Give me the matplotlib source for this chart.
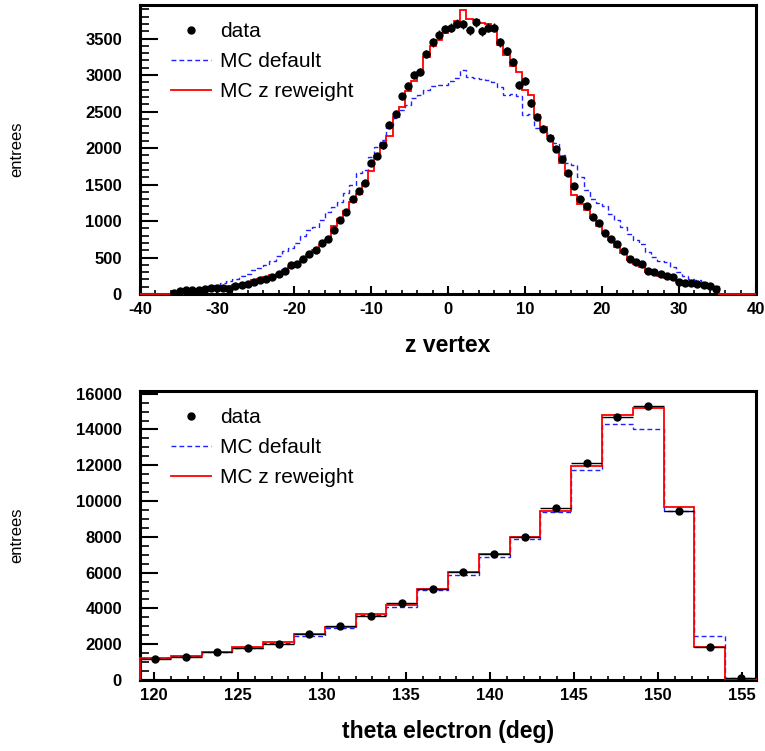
import numpy as np
import matplotlib
matplotlib.use("Agg")
import matplotlib.pyplot as plt
from matplotlib.lines import Line2D
from matplotlib.ticker import MultipleLocator

plt.rcParams['font.family'] = ['Liberation Sans', 'DejaVu Sans']
plt.rcParams['axes.unicode_minus'] = False

# ---------------- top panel: z vertex (100 bins, -40..40) ----------------
z_lo, z_hi, z_nbins = -40.0, 40.0, 100
z_data = [0, 0, 0, 0, 0, 8, 39, 57, 57, 57,
          71, 76, 85, 85, 66, 112, 126, 140, 163, 186,
          209, 231, 268, 314, 392, 415, 484, 543, 598, 699,
          754, 883, 1011, 1125, 1295, 1414, 1524, 1790, 1891, 2038,
          2317, 2469, 2707, 2854, 3005, 3046, 3289, 3450, 3555, 3630,
          3647, 3702, 3693, 3615, 3725, 3601, 3647, 3647, 3450, 3326,
          3175, 2868, 2914, 2616, 2432, 2262, 2143, 1987, 1845, 1662,
          1478, 1300, 1203, 1057, 974, 841, 759, 690, 589, 474,
          438, 415, 314, 300, 277, 245, 231, 163, 144, 149,
          140, 117, 108, 62, 0, 0, 0, 0, 0, 0]
z_mc_default = [0, 0, 0, 0, 0, 0, 48, 57, 62, 71,
                85, 103, 126, 149, 177, 209, 241, 277, 323, 360,
                392, 447, 516, 590, 628, 700, 791, 873, 919, 1011,
                1125, 1194, 1263, 1378, 1492, 1653, 1699, 1882, 2020, 2111,
                2317, 2409, 2524, 2593, 2684, 2730, 2799, 2845, 2868, 2868,
                2914, 2959, 3065, 2973, 2959, 2945, 2936, 2900, 2836, 2730,
                2744, 2708, 2455, 2469, 2271, 2249, 2157, 2065, 1905, 1790,
                1767, 1607, 1423, 1300, 1250, 1203, 1102, 1011, 919, 827,
                736, 690, 575, 507, 452, 438, 369, 300, 241, 209,
                186, 163, 140, 103, 0, 0, 0, 0, 0, 0]
z_mc_rew = [0, 0, 0, 0, 0, 0, 0, 44, 44, 44,
            71, 71, 94, 94, 103, 117, 140, 154, 186, 209,
            231, 254, 277, 332, 375, 405, 460, 529, 598, 667,
            745, 928, 1034, 1139, 1263, 1377, 1524, 1689, 1891, 2056,
            2166, 2432, 2561, 2776, 2913, 3037, 3248, 3395, 3486, 3578,
            3633, 3738, 3890, 3771, 3752, 3707, 3693, 3601, 3418, 3280,
            3119, 3037, 2799, 2730, 2455, 2294, 2166, 2020, 1799, 1630,
            1355, 1240, 1155, 1040, 928, 837, 736, 644, 562, 461,
            415, 369, 300, 277, 241, 222, 209, 163, 149, 140,
            131, 117, 108, 85, 0, 0, 0, 0, 0, 0]

# ---------------- bottom panel: theta electron (20 bins) ----------------
t_lo, t_hi, t_nbins = 119.17, 155.83, 20
t_data = [1156, 1286, 1585, 1790, 2013, 2573, 3020, 3579, 4288, 5071,
          6059, 7047, 8016, 9601, 12118, 14691, 15287, 9471, 1827, 130]
t_mc_default = [1212, 1342, 1585, 1800, 2080, 2461, 2927, 3617, 4101, 5034,
                5872, 6861, 7886, 9415, 11745, 14299, 14038, 9452, 2461, 90]
t_mc_rew = [1212, 1342, 1585, 1827, 2144, 2570, 2983, 3673, 4176, 5108,
            6022, 7047, 8016, 9471, 11969, 14821, 15194, 9657, 1827, 40]

labels = ["data", "MC default", "MC z reweight"]

fig = plt.figure(figsize=(7.65, 7.51), dpi=100)
ax1 = fig.add_axes([140/765, 1-294/751, 616/765, 289/751])
ax2 = fig.add_axes([140/765, 1-680/751, 616/765, 289/751])

BLUE = '#1f1fff'
RED = '#ff0000'


def draw(ax, lo, hi, n, data, mcd, mcr, ymax, xmaj, xmin_, ymaj, ymin_, xlabel):
    edges = np.linspace(lo, hi, n + 1)
    centers = 0.5 * (edges[:-1] + edges[1:])
    half = 0.5 * (edges[1] - edges[0])
    ax.stairs(mcd, edges, color=BLUE, lw=1.0, linestyle=(0, (3.5, 2.2)), zorder=2, clip_on=False)
    ax.stairs(mcr, edges, color=RED, lw=1.3, zorder=3, clip_on=False)
    d = np.array(data, dtype=float)
    m = d > 0
    ax.errorbar(centers[m], d[m], xerr=half, yerr=np.sqrt(d[m]), fmt='o', color='black',
                ms=5, elinewidth=1.0, capsize=0, zorder=4)
    ax.set_xlim(lo, hi)
    ax.set_ylim(0, ymax)
    ax.xaxis.set_major_locator(MultipleLocator(xmaj))
    ax.xaxis.set_minor_locator(MultipleLocator(xmin_))
    ax.yaxis.set_major_locator(MultipleLocator(ymaj))
    ax.yaxis.set_minor_locator(MultipleLocator(ymin_))
    ax.tick_params(axis='x', which='major', direction='in', length=6, width=1.5, pad=6,
                   labelsize=12)
    ax.tick_params(axis='x', which='minor', direction='in', length=3, width=1.2)
    ax.tick_params(axis='y', which='major', direction='in', length=13, width=1.5, pad=13,
                   labelsize=12)
    ax.tick_params(axis='y', which='minor', direction='in', length=6.5, width=1.2)
    for lab in ax.get_xticklabels() + ax.get_yticklabels():
        lab.set_fontweight('bold')
    for sp in ax.spines.values():
        sp.set_linewidth(2.2)
    ax.set_xlabel(xlabel, fontsize=16.5, fontweight='bold', labelpad=12)
    ax.set_ylabel("entrees", fontsize=12)
    ax.yaxis.set_label_coords(-0.188, 0.5)
    handles = [Line2D([], [], marker='o', color='black', ls='none', ms=5),
               Line2D([], [], color=BLUE, lw=1.0, ls=(0, (3.5, 2.2))),
               Line2D([], [], color=RED, lw=1.3)]
    ax.legend(handles, labels, loc='upper left', bbox_to_anchor=(0.05, 0.94),
              frameon=False, fontsize=15, handlelength=1.95, handletextpad=0.4,
              labelspacing=0.52, borderpad=0, borderaxespad=0)


draw(ax1, z_lo, z_hi, z_nbins, z_data, z_mc_default, z_mc_rew, 3960, 10, 2, 500, 100, "z vertex")
draw(ax2, t_lo, t_hi, t_nbins, t_data, t_mc_default, t_mc_rew, 16150, 5, 1, 2000, 500,
     "theta electron (deg)")

fig.savefig("out.png", dpi=100)
